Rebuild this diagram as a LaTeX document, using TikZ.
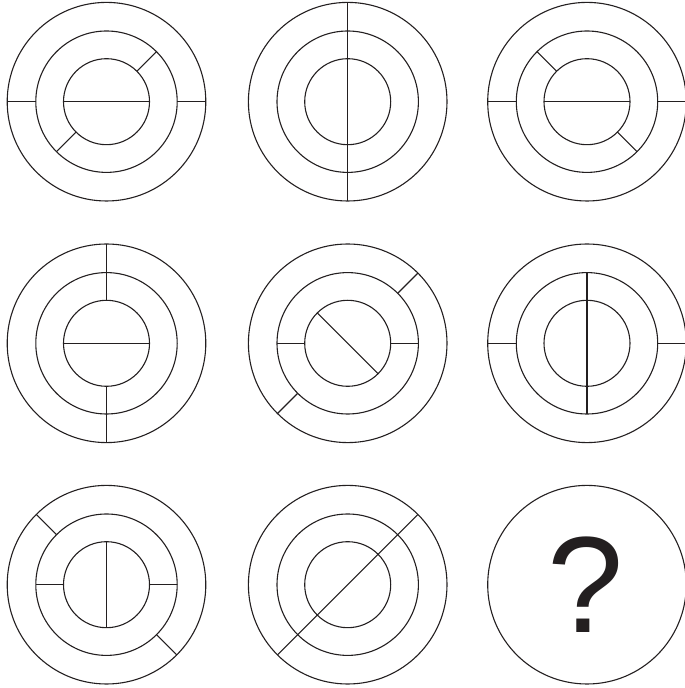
\documentclass[tikz,border=0pt]{standalone}
\usepackage{fontspec}
\newfontfamily\qmarkfont{Liberation Sans}
\definecolor{inkgray}{HTML}{231F20}

\begin{document}
\begin{tikzpicture}[
  x=1pt, y=1pt,
  ring/.style={circle, draw=inkgray, line width=1.1pt, inner sep=0pt, outer sep=0pt},
  outring/.style={ring, minimum size=198.6pt},
  midring/.style={ring, minimum size=141.4pt},
  inring/.style={ring, minimum size=86pt},
  spoke/.style={draw=inkgray, line width=1.1pt},
]
  \useasboundingbox (0,0) rectangle (685,688);

  % three rings for each of the eight drawn panels
  \foreach \n/\x/\y in {1/106.5/586.3, 2/347.7/586.3, 3/587/586.3,
                        4/106.5/344.7, 5/347.7/344.7, 6/587/344.7,
                        7/106.5/103.3, 8/347.7/103.3} {
    \node[outring] (o\n) at (\x,\y) {};
    \node[midring] (m\n) at (\x,\y) {};
    \node[inring]  (i\n) at (\x,\y) {};
  }
  \node[outring] (o9) at (587,103.3) {};
  \node[font=\qmarkfont\fontsize{137}{137}\selectfont, text=inkgray, anchor=base] (qmark) at (585.5,55.7) {?};

  % row 1
  \draw[spoke] (i1.west) -- (i1.east);
  \draw[spoke] (i1.45)   -- (m1.45);
  \draw[spoke] (i1.225)  -- (m1.225);
  \draw[spoke] (m1.east) -- (o1.east);
  \draw[spoke] (m1.west) -- (o1.west);

  \draw[spoke] (o2.north) -- (o2.south);

  \draw[spoke] (i3.west) -- (i3.east);
  \draw[spoke] (i3.135)  -- (m3.135);
  \draw[spoke] (i3.315)  -- (m3.315);
  \draw[spoke] (m3.east) -- (o3.east);
  \draw[spoke] (m3.west) -- (o3.west);

  % row 2
  \draw[spoke] (i4.west)  -- (i4.east);
  \draw[spoke] (i4.north) -- (o4.north);
  \draw[spoke] (i4.south) -- (o4.south);

  \draw[spoke] (i5.135)  -- (i5.315);
  \draw[spoke] (i5.east) -- (m5.east);
  \draw[spoke] (i5.west) -- (m5.west);
  \draw[spoke] (m5.45)   -- (o5.45);
  \draw[spoke] (m5.225)  -- (o5.225);

  \draw[spoke] (m6.north) -- (m6.south);
  \draw[spoke] (m6.east)  -- (o6.east);
  \draw[spoke] (m6.west)  -- (o6.west);

  % row 3
  \draw[spoke] (i7.north) -- (i7.south);
  \draw[spoke] (i7.east)  -- (m7.east);
  \draw[spoke] (i7.west)  -- (m7.west);
  \draw[spoke] (m7.135)   -- (o7.135);
  \draw[spoke] (m7.315)   -- (o7.315);

  \draw[spoke] (o8.45) -- (o8.225);
\end{tikzpicture}
\end{document}
